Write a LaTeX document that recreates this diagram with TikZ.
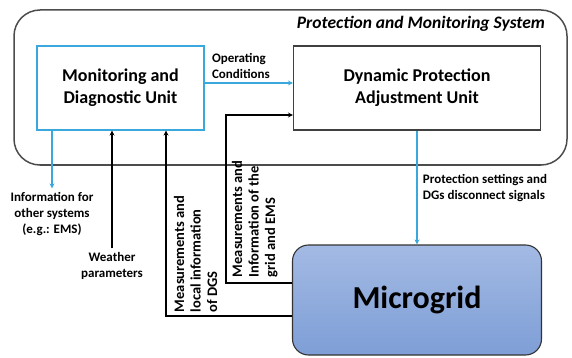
\documentclass[tikz,border=0pt]{standalone}
\usepackage{fontspec}
\setmainfont{Carlito}
\usetikzlibrary{arrows.meta,positioning}

\definecolor{sigblue}{RGB}{58,168,220}
\definecolor{gridtop}{RGB}{163,186,228}
\definecolor{gridbot}{RGB}{126,158,214}

\tikzset{
  unit/.style={draw, line width=1.1pt, minimum width=#1, minimum height=84pt,
    align=center, font=\fontsize{18}{22}\selectfont\bfseries},
  lbl/.style={align=center, font=\fontsize{13}{16}\selectfont\bfseries},
  vlbl/.style={rotate=90, anchor=north west, align=left,
    font=\fontsize{14.5}{16.5}\selectfont\bfseries},
}

\begin{document}
\begin{tikzpicture}[x=1pt, y=-1pt, line width=1.2pt, >={Stealth[length=5pt,width=5pt]}]
  \useasboundingbox (0,0) rectangle (572,358);

  % system frame
  \draw[line width=1.5pt, draw=black!70, rounded corners=26pt] (14,10) rectangle (567,165);
  \node[anchor=east, font=\fontsize{17.5}{20}\selectfont\bfseries\itshape] (sys) at (549,24)
    {Protection and Monitoring System};

  % units
  \node[unit=167pt, draw=sigblue] (mdu) at (120.5,88) {Monitoring and\\Diagnostic Unit};
  \node[unit=247pt, draw=black!75] (dpau) at (417,88) {Dynamic Protection\\Adjustment Unit};
  \node[draw=black!80, line width=1.1pt, rounded corners=16pt, minimum width=249pt,
    minimum height=110pt, top color=gridtop, bottom color=gridbot,
    font=\fontsize{32}{36}\selectfont\bfseries] (mg) at (417,300) {Microgrid};

  % outside labels
  \node[lbl] (info) at (52,214) {Information for\\other systems\\(e.g.: EMS)};
  \node[lbl] (weather) at (112,266) {Weather\\parameters};
  \node[lbl, align=left, anchor=west] (prot) at (419,188) {Protection settings and\\DGs disconnect signals};

  \coordinate (bend1) at (226,115);
  \coordinate (bend2) at (166,316);

  % connectors
  \draw[->, sigblue] ([yshift=5pt]mdu.east) -- ([yshift=5pt]dpau.west)
    node[pos=0.04, above right, lbl, align=left, black] (opc) {Operating\\Conditions};
  \draw[->] (mg.west |- 0,283) -| (bend1) -- (dpau.west |- bend1);
  \draw[->] (mg.west |- bend2) -- (bend2) -- (bend2 |- mdu.south);
  \draw[->] (weather.north) -- (weather.north |- mdu.south);
  \draw[->, sigblue] (mdu.south -| info) -- (info.north);
  \draw[->, sigblue] (dpau.south) -- (mg.north);

  % rotated labels beside the measurement lines
  \node[vlbl] (meas1) at (170,316) {Measurements and\\local information\\of DGS};
  \node[vlbl] (meas2) at (228,281) {Measurements and\\Information of the\\grid and EMS};
\end{tikzpicture}
\end{document}
